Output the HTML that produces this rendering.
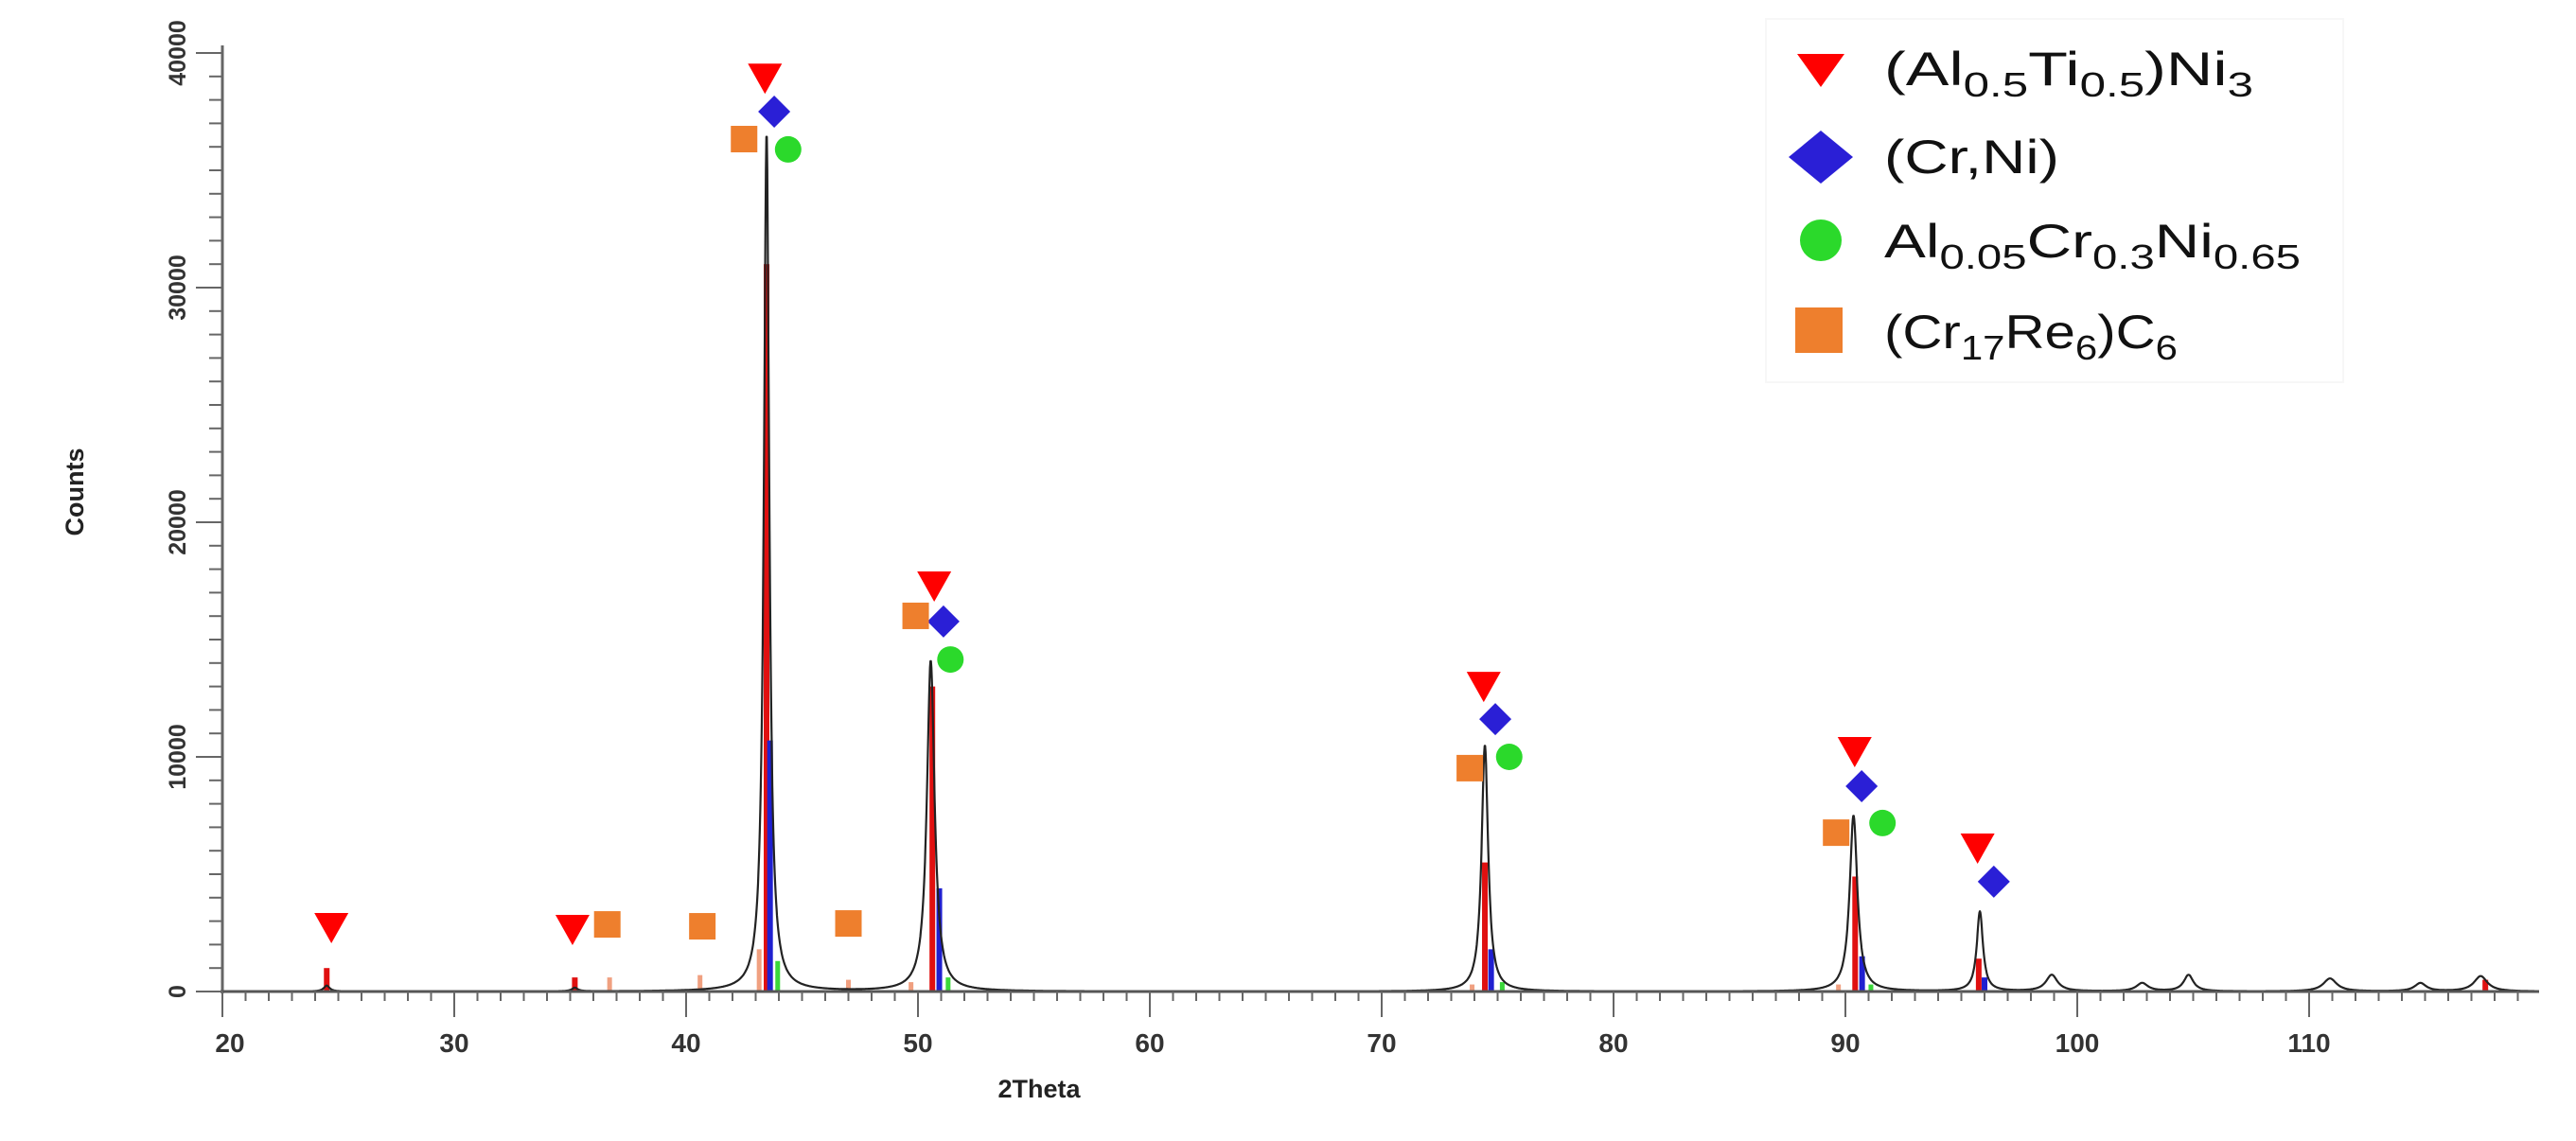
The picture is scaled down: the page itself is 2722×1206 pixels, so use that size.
<!DOCTYPE html>
<html><head><meta charset="utf-8">
<style>
html,body{margin:0;padding:0;background:#fff;width:2722px;height:1206px;overflow:hidden}
svg{display:block}
text{font-family:"Liberation Sans",sans-serif}
</style></head>
<body>
<svg id="chart" width="2722" height="1206" viewBox="0 0 2722 1206" xmlns="http://www.w3.org/2000/svg">
  <g id="sticks"></g>
  <g id="profile"></g>
  <g id="axes"></g>
  <g id="markers"></g>
  <text x="0" y="0" transform="translate(88,520) rotate(-90)" text-anchor="middle" font-size="27" font-weight="bold" fill="#222">Counts</text>
  <text x="1098" y="1160" text-anchor="middle" font-size="27" font-weight="bold" fill="#222">2Theta</text>
  <g>
    <rect x="1866" y="20" width="610" height="384" fill="none" stroke="#f7f7f7" stroke-width="2"/>
    <g>
      <polygon points="1899,57 1949,57 1924,92" fill="#f00"/>
      <text x="1991" y="90" font-size="50" fill="#111" textLength="390" lengthAdjust="spacingAndGlyphs">(Al<tspan font-size="36" dy="12">0.5</tspan><tspan dy="-12">Ti</tspan><tspan font-size="36" dy="12">0.5</tspan><tspan dy="-12">)Ni</tspan><tspan font-size="36" dy="12">3</tspan></text>
    </g>
    <g>
      <polygon points="1924,138 1958,166 1924,194 1890,166" fill="#2a1fd6"/>
      <text x="1991" y="183" font-size="50" fill="#111" textLength="185" lengthAdjust="spacingAndGlyphs">(Cr,Ni)</text>
    </g>
    <g>
      <circle cx="1924" cy="254" r="22" fill="#2bd92b"/>
      <text x="1991" y="272" font-size="50" fill="#111" textLength="440" lengthAdjust="spacingAndGlyphs">Al<tspan font-size="36" dy="12">0.05</tspan><tspan dy="-12">Cr</tspan><tspan font-size="36" dy="12">0.3</tspan><tspan dy="-12">Ni</tspan><tspan font-size="36" dy="12">0.65</tspan></text>
    </g>
    <g>
      <rect x="1897" y="325" width="50" height="48" fill="#ee7f2d"/>
      <text x="1991" y="368" font-size="50" fill="#111" textLength="310" lengthAdjust="spacingAndGlyphs">(Cr<tspan font-size="36" dy="12">17</tspan><tspan dy="-12">Re</tspan><tspan font-size="36" dy="12">6</tspan><tspan dy="-12">)C</tspan><tspan font-size="36" dy="12">6</tspan></text>
    </g>
  </g>
</svg>
<script>
// ---- data ----
const xTicks = [20,30,40,50,60,70,80,90,100,110];
const yTicks = [0,10000,20000,30000,40000];
const peakPos = [24.5,35.2,43.47,50.55,74.45,90.35,95.8,98.9,102.8,104.8,110.9,114.8,117.4];
const peakHeight = [250,150,36600,14100,10500,7500,3400,700,350,700,550,350,650];
const peakWidth = [0.15,0.15,0.14,0.2,0.17,0.2,0.16,0.3,0.3,0.25,0.35,0.3,0.35];
const redStickPos = [24.5,35.2,43.47,50.62,74.45,90.42,95.75,117.6];
const redStickVal = [1000,600,31000,13000,5500,4900,1400,500];
const blueStickPos = [43.62,50.92,74.72,90.72,96.0];
const blueStickVal = [10700,4400,1800,1500,600];
const greenStickPos = [43.95,51.3,75.2,91.1];
const greenStickVal = [1300,600,400,300];
const orangeStickPos = [36.7,40.6,43.15,47.0,49.7,73.9,89.7];
const orangeStickVal = [600,700,1800,500,400,300,300];
const triX = [24.7,35.1,43.4,50.7,74.4,90.4,95.7];
const triY = [2700,2620,38900,17260,12980,10200,6090];
const diaX = [43.8,51.1,74.9,90.7,96.4];
const diaY = [37500,15770,11610,8750,4680];
const cirX = [44.4,51.4,75.5,91.6];
const cirY = [35890,14150,10000,7180];
const sqX = [36.6,40.7,42.5,47.0,49.9,73.8,89.6];
const sqY = [2860,2780,36330,2900,16010,9520,6770];

const NS = 'http://www.w3.org/2000/svg';
const xS = v => 235 + (v-20)*24.5;
const yS = c => 1048 - c*0.0248;
function mk(tag, attrs, parent){const e=document.createElementNS(NS,tag);for(const k in attrs)e.setAttribute(k,attrs[k]);parent.appendChild(e);return e;}

// axes
const axes=document.getElementById('axes');
let a=mk('line',{x1:235,y1:48,x2:235,y2:1050,stroke:'#666','stroke-width':3},axes);


a=mk('line',{x1:233,y1:1048,x2:2683,y2:1048,stroke:'#555','stroke-width':3},axes);


for(let c=0;c<=40000;c+=1000){
  const maj=c%10000===0;
  const t=mk('line',{x1:maj?207:221,y1:yS(c),x2:235,y2:yS(c),stroke:'#666','stroke-width':2},axes);
  
  
}
yTicks.forEach(v=>{
  const t=mk('text',{x:0,y:0,transform:`translate(196,${yS(v)}) rotate(-90)`,'text-anchor':'middle','font-size':25,'font-weight':'bold',fill:'#333'},axes);
  t.textContent=String(v);
  
  
});
for(let v=20;v<=119;v++){
  const maj=v%10===0;
  const t=mk('line',{x1:xS(v),y1:1048,x2:xS(v),y2:maj?1075:1058,stroke:'#666','stroke-width':2},axes);
  
  
}
xTicks.forEach(v=>{
  const t=mk('text',{x:xS(v)+(v===20?8:0),y:1112,'text-anchor':'middle','font-size':28,'font-weight':'bold',fill:'#333'},axes);
  t.textContent=String(v);
  
  
});

// sticks
const sticks=document.getElementById('sticks');
function drawSticks(pos,val,color,w,name){
  pos.forEach((p,i)=>{
    const r=mk('rect',{x:xS(p)-w/2,y:yS(val[i]),width:w,height:1048-yS(val[i]),fill:color},sticks);
    
    
  });
}
drawSticks(orangeStickPos,orangeStickVal,'#f0a080',5,'stick-cr17re6c6');
drawSticks(greenStickPos,greenStickVal,'#3ad83a',5,'stick-alcrni');
drawSticks(redStickPos,redStickVal,'#e01010',6,'stick-alti-ni3');
drawSticks(blueStickPos,blueStickVal,'#2020d0',6,'stick-cr-ni');

// profile
const prof=document.getElementById('profile');
let d='';
for(let x=20;x<=119.9;x+=0.02){
  let c=0;
  peakPos.forEach((p,i)=>{const g=peakWidth[i];c+=peakHeight[i]/(1+((x-p)/g)*((x-p)/g));});
  d+=(d?'L':'M')+xS(x).toFixed(1)+','+yS(c).toFixed(1);
}
const pl=mk('path',{d:d,fill:'none',stroke:'#222','stroke-width':2.2,'stroke-linejoin':'round'},prof);



// markers
const mg=document.getElementById('markers');
triX.forEach((x,i)=>{const cx=xS(x),cy=yS(triY[i]);
  const m=mk('polygon',{points:`${cx-18},${cy-16} ${cx+18},${cy-16} ${cx},${cy+16}`,fill:'#f00'},mg);
  
  });
diaX.forEach((x,i)=>{const cx=xS(x),cy=yS(diaY[i]);
  const m=mk('polygon',{points:`${cx},${cy-17} ${cx+17},${cy} ${cx},${cy+17} ${cx-17},${cy}`,fill:'#2a1fd6'},mg);
  
  });
cirX.forEach((x,i)=>{
  const m=mk('circle',{cx:xS(x),cy:yS(cirY[i]),r:14,fill:'#2bd92b'},mg);
  
  });
sqX.forEach((x,i)=>{
  const m=mk('rect',{x:xS(x)-14,y:yS(sqY[i])-14,width:28,height:28,fill:'#ee7f2d'},mg);
  
  });
</script>
</body></html>
